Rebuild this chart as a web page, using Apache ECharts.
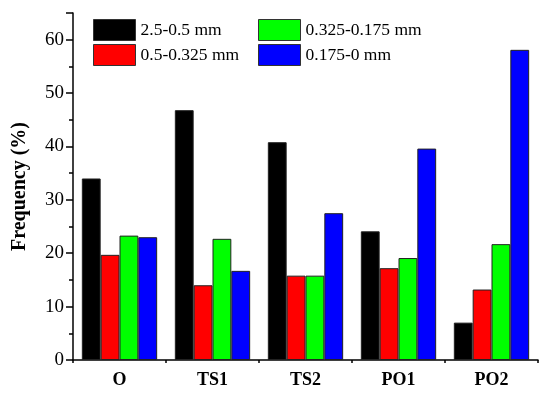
<!DOCTYPE html>
<html><head><meta charset="utf-8">
<script src="https://cdn.jsdelivr.net/npm/echarts@6/dist/echarts.min.js"></script>
<style>html,body{margin:0;padding:0;background:#fff}#c{width:550px;height:394px}</style>
</head><body><div id="c"></div>
<script>
const categories = ['O', 'TS1', 'TS2', 'PO1', 'PO2'];
const seriesNames = ['2.5-0.5 mm', '0.5-0.325 mm', '0.325-0.175 mm', '0.175-0 mm'];
const coarse = [34.0, 46.8, 40.8, 24.1, 7.0];
const medium = [19.7, 14.0, 15.8, 17.2, 13.2];
const fine = [23.3, 22.7, 15.8, 19.1, 21.7];
const finest = [23.0, 16.7, 27.5, 39.6, 58.1];
const colors = ['#000000', '#ff0000', '#00ff00', '#0000ff'];
const yTicks = [0, 10, 20, 30, 40, 50, 60];

const font = 'Liberation Serif, Times New Roman, serif';
const values = [coarse, medium, fine, finest];
const chart = echarts.init(document.getElementById('c'));
chart.setOption({
  animation: false,
  textStyle: { fontFamily: font },
  grid: { left: 73, right: 12, top: 13, bottom: 34 },
  legend: [
    { data: seriesNames.slice(0, 2), orient: 'vertical', left: 88, top: 14, itemWidth: 42, itemHeight: 21, itemGap: 3, icon: 'rect',
      itemStyle: { borderColor: '#333', borderWidth: 1 },
      textStyle: { fontFamily: font, fontSize: 17.5, color: '#000' } },
    { data: seriesNames.slice(2, 4), orient: 'vertical', left: 253, top: 14, itemWidth: 42, itemHeight: 21, itemGap: 3, icon: 'rect',
      itemStyle: { borderColor: '#333', borderWidth: 1 },
      textStyle: { fontFamily: font, fontSize: 17.5, color: '#000' } }
  ],
  xAxis: [
    { type: 'category', data: categories,
      axisLine: { lineStyle: { color: '#000', width: 1.5 } },
      axisTick: { alignWithLabel: true, length: 6, lineStyle: { color: '#000', width: 1.5 } },
      axisLabel: { fontFamily: font, fontSize: 18, fontWeight: 'bold', color: '#000', margin: 11 } },
    { type: 'category', data: categories, position: 'bottom',
      axisLine: { show: false },
      axisTick: { show: true, length: 3, lineStyle: { color: '#000', width: 1.5 } },
      axisLabel: { show: false } }
  ],
  yAxis: {
    type: 'value', min: 0, max: 65, interval: 10,
    name: 'Frequency (%)', nameLocation: 'middle', nameGap: 43,
    nameTextStyle: { fontFamily: font, fontSize: 20, fontWeight: 'bold', color: '#000' },
    axisLine: { show: true, lineStyle: { color: '#000', width: 1.5 } },
    axisTick: { show: true, length: 7, lineStyle: { color: '#000', width: 1.5 } },
    minorTick: { show: true, splitNumber: 2, length: 4, lineStyle: { color: '#000', width: 1.5 } },
    splitLine: { show: false },
    axisLabel: { fontFamily: font, fontSize: 19, color: '#000', margin: 9,
      formatter: v => (yTicks.includes(v) ? String(v) : '') }
  },
  series: seriesNames.map((n, i) => ({
    name: n, type: 'bar', xAxisIndex: 0, data: values[i],
    barGap: '0%', barCategoryGap: '19%',
    itemStyle: { color: colors[i], borderColor: '#222', borderWidth: 1 }
  }))
});
</script></body></html>
